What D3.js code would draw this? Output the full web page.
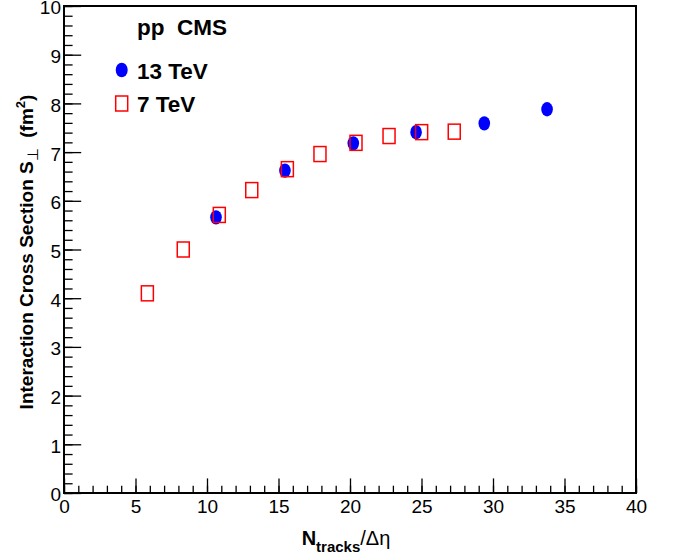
<!DOCTYPE html>
<html>
<head>
<meta charset="utf-8">
<script src="https://cdn.jsdelivr.net/npm/d3@7"></script>
<style>
  html, body { margin: 0; padding: 0; background: #fff; }
  svg { display: block; font-family: "Liberation Sans", Arial, Helvetica, sans-serif; }
</style>
</head>
<body>
<svg id="chart" width="673" height="558"></svg>
<script>
// ---- data ----
const x13 = [10.63, 15.45, 20.23, 24.62, 29.39, 33.78];
const y13 = [5.66, 6.62, 7.18, 7.41, 7.59, 7.88];
const x7 = [5.83, 8.34, 10.86, 13.13, 15.62, 17.90, 20.42, 22.73, 25.01, 27.29];
const y7 = [4.10, 5.00, 5.71, 6.22, 6.65, 6.96, 7.19, 7.33, 7.41, 7.42];
const xTicks = [0, 5, 10, 15, 20, 25, 30, 35, 40];
const yTicks = [0, 1, 2, 3, 4, 5, 6, 7, 8, 9, 10];
const legendLabels = ["13 TeV", "7 TeV"];
const headerText = "pp\u00a0\u00a0CMS";

// ---- layout ----
const L = 64, R = 636, T = 6, B = 493;
const svg = d3.select("#chart");
const x = d3.scaleLinear().domain([0, 40]).range([L, R]);
const y = d3.scaleLinear().domain([0, 10]).range([B, T]);

// minor ticks
svg.append("g").attr("transform", `translate(0,${B})`)
  .call(d3.axisBottom(x).tickValues(d3.range(0, 40.001, 1)).tickSize(-7.3).tickFormat(""))
  .call(g => g.select(".domain").remove())
  .call(g => g.selectAll("line").attr("stroke", "#000").attr("stroke-width", 1.3));
svg.append("g").attr("transform", `translate(${L},0)`)
  .call(d3.axisLeft(y).tickValues(d3.range(0, 10.001, 0.2)).tickSize(-8.6).tickFormat(""))
  .call(g => g.select(".domain").remove())
  .call(g => g.selectAll("line").attr("stroke", "#000").attr("stroke-width", 1.3));

// major ticks with labels
svg.append("g").attr("transform", `translate(0,${B})`)
  .call(d3.axisBottom(x).tickValues(xTicks).tickSize(-14.6).tickPadding(7).tickFormat(d3.format("d")))
  .call(g => g.select(".domain").remove())
  .call(g => g.selectAll("line").attr("stroke", "#000").attr("stroke-width", 1.3))
  .call(g => g.selectAll("text").attr("font-size", 19).attr("font-family", null).attr("fill", "#000"));
svg.append("g").attr("transform", `translate(${L},0)`)
  .call(d3.axisLeft(y).tickValues(yTicks).tickSize(-17.2).tickPadding(3).tickFormat(d3.format("d")))
  .call(g => g.select(".domain").remove())
  .call(g => g.selectAll("line").attr("stroke", "#000").attr("stroke-width", 1.3))
  .call(g => g.selectAll("text").attr("font-size", 19).attr("font-family", null).attr("fill", "#000").attr("dy", "0.42em"));

// frame
svg.append("rect").attr("x", L).attr("y", T).attr("width", R - L).attr("height", B - T)
  .attr("fill", "none").attr("stroke", "#000").attr("stroke-width", 2);

// axis titles
const xt = svg.append("text").attr("x", 346).attr("y", 545).attr("text-anchor", "middle")
  .attr("font-size", 20).attr("fill", "#000");
xt.append("tspan").attr("font-weight", "bold").text("N");
xt.append("tspan").attr("font-weight", "bold").attr("font-size", 15).attr("dy", 7).text("tracks");
xt.append("tspan").attr("dy", -7).text("/\u0394\u03b7");

const yt = svg.append("text").attr("transform", "translate(33,252) rotate(-90)")
  .attr("text-anchor", "middle").attr("font-size", 19).attr("font-weight", "bold").attr("fill", "#000");
yt.append("tspan").text("Interaction Cross Section S");
yt.append("tspan").attr("font-size", 15).attr("font-weight", "normal").attr("dy", 5).text("\u22a5");
yt.append("tspan").attr("dy", -5).text("\u00a0\u00a0(fm");
yt.append("tspan").attr("font-size", 13).attr("dy", -8).text("2");
yt.append("tspan").attr("dy", 8).text(")");

// data: 13 TeV filled blue ellipses
svg.append("g").selectAll("ellipse").data(x13.map((v, i) => [v, y13[i]])).join("ellipse")
  .attr("cx", d => x(d[0])).attr("cy", d => y(d[1])).attr("rx", 5.8).attr("ry", 7.2)
  .attr("fill", "#0000ff");

// data: 7 TeV open red squares
svg.append("g").selectAll("rect").data(x7.map((v, i) => [v, y7[i]])).join("rect")
  .attr("x", d => x(d[0]) - 6).attr("y", d => y(d[1]) - 7.5).attr("width", 12).attr("height", 15)
  .attr("fill", "none").attr("stroke", "#ff0000").attr("stroke-width", 1.5);

// legend / header
svg.append("text").attr("x", 137).attr("y", 35).attr("font-size", 22.5).attr("font-weight", "bold")
  .attr("fill", "#000").text(headerText);
svg.append("ellipse").attr("cx", 121.7).attr("cy", 70).attr("rx", 6).attr("ry", 7.3).attr("fill", "#0000ff");
svg.append("rect").attr("x", 115.7).attr("y", 96).attr("width", 12).attr("height", 15)
  .attr("fill", "none").attr("stroke", "#ff0000").attr("stroke-width", 1.5);
svg.append("text").attr("x", 137).attr("y", 79).attr("font-size", 22.5).attr("font-weight", "bold")
  .attr("fill", "#000").text(legendLabels[0]);
svg.append("text").attr("x", 137).attr("y", 111.5).attr("font-size", 22.5).attr("font-weight", "bold")
  .attr("fill", "#000").text(legendLabels[1]);
</script>
</body>
</html>
